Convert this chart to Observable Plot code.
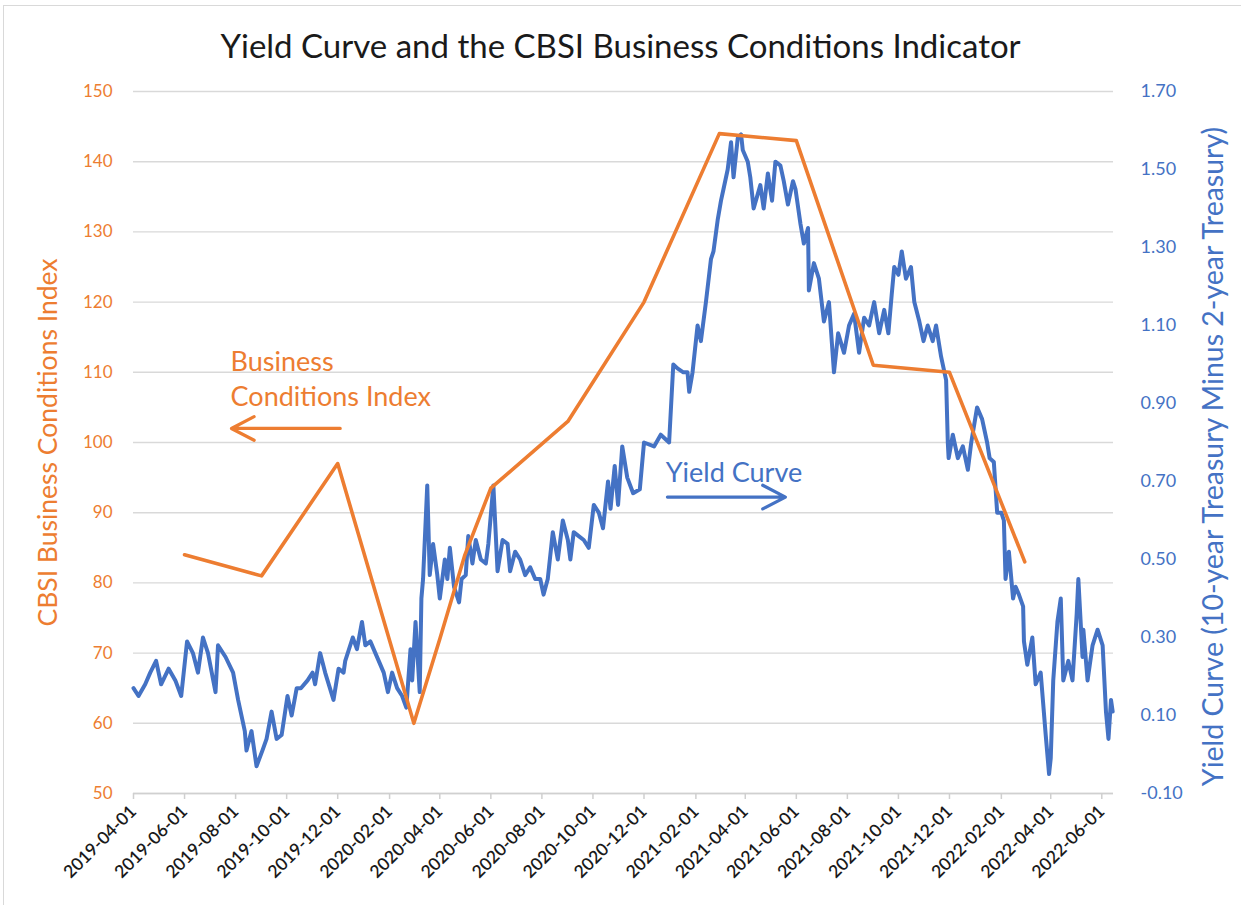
<!DOCTYPE html>
<html>
<head>
<meta charset="utf-8">
<script src="https://cdn.jsdelivr.net/npm/d3@7"></script>
<script src="https://cdn.jsdelivr.net/npm/@observablehq/plot@0.6"></script>
<style>
  html, body { margin: 0; padding: 0; background: #fff; }
  #wrap { position: relative; width: 1241px; height: 905px; overflow: hidden; font-family: Lato, "Open Sans", sans-serif; background: #fff; }
  #frame { position: absolute; z-index: 5; pointer-events: none; left: 3px; top: 5px; width: 1260px; height: 920px; border-left: 1px solid #d9d9d9; border-top: 1px solid #d9d9d9; }
  #title { position: absolute; z-index: 2; left: 0; top: 0; width: 1241px; height: 90px; line-height: 90px; text-align: center; font-size: 33px; color: #1a1a1a; }
  #chart { position: absolute; z-index: 1; left: 0; top: 80px; }
</style>
</head>
<body>
<div id="wrap">
  <div id="frame"></div>
  <div id="title">Yield Curve and the CBSI Business Conditions Indicator</div>
  <div id="chart"></div>
</div>
<script>
// ---------- Data ----------
const bciDates = ["2019-06-01","2019-09-01","2019-12-01","2020-03-01","2020-04-01","2020-05-01","2020-06-01","2020-09-01","2020-12-01","2021-03-01","2021-06-01","2021-09-01","2021-12-01","2022-03-01"];
const bciValues = [84, 81, 97, 60, 72, 84, 93.5, 103, 120, 144, 143, 111, 110, 83];

const yieldDates = [
"2019-04-01","2019-04-07","2019-04-15","2019-04-21","2019-04-28","2019-05-04","2019-05-13","2019-05-21","2019-05-28",
"2019-06-04","2019-06-11","2019-06-17","2019-06-23","2019-06-29","2019-07-08","2019-07-11","2019-07-20","2019-07-29",
"2019-08-04","2019-08-12","2019-08-14","2019-08-20","2019-08-26","2019-09-02","2019-09-07","2019-09-13","2019-09-19","2019-09-25",
"2019-10-02","2019-10-07","2019-10-13","2019-10-18","2019-10-26","2019-11-01","2019-11-04","2019-11-10","2019-11-16","2019-11-26",
"2019-12-02","2019-12-08","2019-12-10","2019-12-19","2019-12-24","2019-12-30",
"2020-01-03","2020-01-09","2020-01-15","2020-01-19","2020-01-25","2020-01-30",
"2020-02-04","2020-02-10","2020-02-16","2020-02-21","2020-02-26","2020-02-28",
"2020-03-03","2020-03-08","2020-03-10","2020-03-12","2020-03-17","2020-03-20","2020-03-24","2020-03-29",
"2020-04-01","2020-04-07","2020-04-10","2020-04-13","2020-04-18","2020-04-24","2020-04-27",
"2020-05-02","2020-05-05","2020-05-10","2020-05-14","2020-05-20","2020-05-26","2020-05-29",
"2020-06-04","2020-06-09","2020-06-15","2020-06-21","2020-06-24","2020-06-30",
"2020-07-06","2020-07-12","2020-07-18","2020-07-24","2020-07-30",
"2020-08-03","2020-08-08","2020-08-14","2020-08-20","2020-08-26",
"2020-09-01","2020-09-04","2020-09-08","2020-09-14","2020-09-20","2020-09-26",
"2020-10-02","2020-10-08","2020-10-13","2020-10-19","2020-10-22","2020-10-27","2020-10-31",
"2020-11-05","2020-11-11","2020-11-18","2020-11-26","2020-12-01","2020-12-13","2020-12-21","2020-12-31",
"2021-01-05","2021-01-10","2021-01-17","2021-01-22","2021-01-24","2021-01-28",
"2021-02-03","2021-02-07","2021-02-13","2021-02-19","2021-02-22","2021-02-27",
"2021-03-03","2021-03-06","2021-03-11","2021-03-15","2021-03-18","2021-03-23","2021-03-27","2021-03-29",
"2021-04-04","2021-04-07","2021-04-11","2021-04-19","2021-04-23","2021-04-28",
"2021-05-03","2021-05-07","2021-05-13","2021-05-17","2021-05-22","2021-05-28","2021-05-31",
"2021-06-06","2021-06-10","2021-06-15","2021-06-16","2021-06-22","2021-06-28",
"2021-07-04","2021-07-10","2021-07-16","2021-07-21","2021-07-28",
"2021-08-03","2021-08-09","2021-08-15","2021-08-21","2021-08-27",
"2021-09-02","2021-09-08","2021-09-14","2021-09-19","2021-09-23","2021-09-26",
"2021-10-01","2021-10-05","2021-10-10","2021-10-16","2021-10-20","2021-10-26","2021-10-31",
"2021-11-05","2021-11-11","2021-11-15","2021-11-21","2021-11-24","2021-11-27","2021-11-29","2021-11-30",
"2021-12-05","2021-12-11","2021-12-17","2021-12-23","2021-12-27",
"2022-01-03","2022-01-09","2022-01-15","2022-01-18","2022-01-23","2022-01-27",
"2022-02-01","2022-02-04","2022-02-06","2022-02-10","2022-02-15","2022-02-18","2022-02-22","2022-02-27","2022-02-28",
"2022-03-04","2022-03-10","2022-03-14","2022-03-20","2022-03-26","2022-03-30",
"2022-04-01","2022-04-04","2022-04-09","2022-04-13","2022-04-16","2022-04-22","2022-04-27",
"2022-05-02","2022-05-04","2022-05-09","2022-05-10","2022-05-15","2022-05-21","2022-05-27",
"2022-06-02","2022-06-06","2022-06-09","2022-06-12","2022-06-14"
];
const yieldValues = [
0.17,0.15,0.18,0.21,0.24,0.18,0.22,0.19,0.15,
0.29,0.26,0.21,0.30,0.26,0.16,0.28,0.25,0.21,
0.14,0.06,0.01,0.06,-0.03,0.01,0.04,0.11,0.04,0.05,
0.15,0.10,0.17,0.17,0.19,0.21,0.18,0.26,0.21,0.14,
0.22,0.21,0.24,0.30,0.27,0.34,
0.28,0.29,0.26,0.24,0.21,0.16,
0.21,0.17,0.15,0.12,0.27,0.19,
0.34,0.16,0.40,0.45,0.69,0.46,0.54,0.46,
0.40,0.50,0.45,0.53,0.43,0.39,0.45,
0.46,0.56,0.49,0.55,0.50,0.49,0.54,
0.69,0.47,0.55,0.54,0.47,0.52,
0.50,0.46,0.48,0.45,0.45,
0.41,0.45,0.57,0.50,0.60,
0.55,0.50,0.57,0.56,0.55,0.53,
0.64,0.62,0.58,0.70,0.63,0.74,0.64,
0.79,0.71,0.67,0.68,0.80,0.79,0.82,0.80,
1.00,0.99,0.98,0.98,0.93,0.98,
1.10,1.06,1.16,1.27,1.29,1.37,
1.42,1.45,1.50,1.57,1.48,1.58,1.59,1.55,
1.52,1.48,1.40,1.46,1.40,1.49,
1.42,1.52,1.51,1.47,1.41,1.47,1.45,
1.36,1.31,1.35,1.19,1.26,1.22,
1.11,1.16,0.98,1.08,1.03,
1.10,1.13,1.03,1.12,1.10,
1.16,1.08,1.14,1.08,1.18,1.25,
1.23,1.29,1.22,1.25,1.16,1.11,1.06,
1.10,1.06,1.10,1.02,0.99,0.96,0.80,0.76,
0.82,0.76,0.79,0.73,0.80,
0.89,0.86,0.80,0.76,0.75,0.62,
0.62,0.60,0.45,0.52,0.40,0.43,0.41,0.38,0.29,
0.23,0.30,0.18,0.21,0.05,-0.05,
-0.01,0.19,0.34,0.40,0.19,0.24,0.19,
0.36,0.45,0.25,0.32,0.19,0.28,0.32,
0.28,0.11,0.04,0.14,0.11
];

const leftTicks = [50,60,70,80,90,100,110,120,130,140,150];
const rightTicks = [-0.10,0.10,0.30,0.50,0.70,0.90,1.10,1.30,1.50,1.70];
const xTicks = ["2019-04-01","2019-06-01","2019-08-01","2019-10-01","2019-12-01","2020-02-01","2020-04-01","2020-06-01","2020-08-01","2020-10-01","2020-12-01","2021-02-01","2021-04-01","2021-06-01","2021-08-01","2021-10-01","2021-12-01","2022-02-01","2022-04-01","2022-06-01"];

const bciLabelLines = ["Business", "Conditions Index"];
const bciLabelDate = "2019-07-26";
const bciLabelValues = [111.4, 106.4];
const bciArrow = {from: "2019-12-04", to: "2019-07-27", value: 102};
const yieldLabel = {text: "Yield Curve", date: "2020-12-27", value: 0.72};
const yieldArrow = {from: "2020-12-29", to: "2021-05-19", value: 0.66};

// ---------- Chart ----------
const orange = "#ED7D31", blue = "#4472C4";
const leftMin = 50, leftMax = 150, rightMin = -0.10, rightMax = 1.70;
const toLeft = v => leftMin + (v - rightMin) / (rightMax - rightMin) * (leftMax - leftMin);
const fromLeft = v => rightMin + (v - leftMin) / (leftMax - leftMin) * (rightMax - rightMin);
const D = s => new Date(s + "T00:00:00Z");

const bci = bciDates.map((d, i) => ({date: D(d), value: bciValues[i]}));
const yc = yieldDates.map((d, i) => ({date: D(d), value: yieldValues[i]}));

const chart = Plot.plot({
  width: 1241,
  height: 825,
  marginTop: 11,
  marginLeft: 133,
  marginRight: 128,
  marginBottom: 112,
  style: {fontFamily: "Lato, 'Open Sans', sans-serif", background: "transparent", overflow: "visible"},
  x: {type: "utc", domain: [D("2019-04-01"), D("2022-06-15")]},
  y: {domain: [leftMin, leftMax]},
  marks: [
    Plot.gridY(leftTicks, {stroke: "#d9d9d9", strokeOpacity: 1, strokeWidth: 1.4}),
    Plot.ruleY([leftMin], {stroke: "#d0d0d0", strokeWidth: 1.6}),
    Plot.axisX(xTicks.map(D), {tickSize: 6, tickFormat: () => "", color: "#cfcfcf", strokeWidth: 1.5}),
    Plot.axisX(xTicks.map(D), {tickSize: 0, tickPadding: 15, tickRotate: -45, tickFormat: d3.utcFormat("%Y-%m-%d"), fill: "#1a1a1a", fontSize: 17.5, fontWeight: 600, label: null}),
    Plot.axisY(leftTicks, {anchor: "left", tickSize: 0, tickPadding: 21, fill: orange, fontSize: 17, label: null}),
    Plot.axisY(rightTicks.map(toLeft), {anchor: "right", tickSize: 0, tickPadding: 27, fill: blue, fontSize: 18, tickFormat: d => fromLeft(d).toFixed(2), label: null}),
    Plot.text(["CBSI Business Conditions Index"], {frameAnchor: "left", rotate: -90, dx: -85, textAnchor: "middle", fill: orange, fontSize: 26.5}),
    Plot.text(["Yield Curve (10-year Treasury Minus 2-year Treasury)"], {frameAnchor: "right", rotate: -90, dx: 100, dy: 14, textAnchor: "middle", fill: blue, fontSize: 28.5}),
    Plot.line(yc, {x: "date", y: d => toLeft(d.value), stroke: blue, strokeWidth: 4, strokeLinejoin: "round", strokeLinecap: "round"}),
    Plot.line(bci, {x: "date", y: "value", stroke: orange, strokeWidth: 3.6, strokeLinejoin: "round", strokeLinecap: "round"}),
    Plot.text(bciLabelLines, {x: () => D(bciLabelDate), y: (d, i) => bciLabelValues[i], text: d => d, textAnchor: "start", fill: orange, fontSize: 27}),
    Plot.arrow([bciArrow], {x1: d => D(d.from), x2: d => D(d.to), y1: "value", y2: "value", stroke: orange, strokeWidth: 3.2, headLength: 12, headAngle: 55}),
    Plot.text([yieldLabel], {x: d => D(d.date), y: d => toLeft(d.value), text: "text", textAnchor: "start", fill: blue, fontSize: 27}),
    Plot.arrow([yieldArrow], {x1: d => D(d.from), x2: d => D(d.to), y1: d => toLeft(d.value), y2: d => toLeft(d.value), stroke: blue, strokeWidth: 3.2, headLength: 12, headAngle: 55})
  ]
});
document.getElementById("chart").appendChild(chart);
</script>
</body>
</html>
